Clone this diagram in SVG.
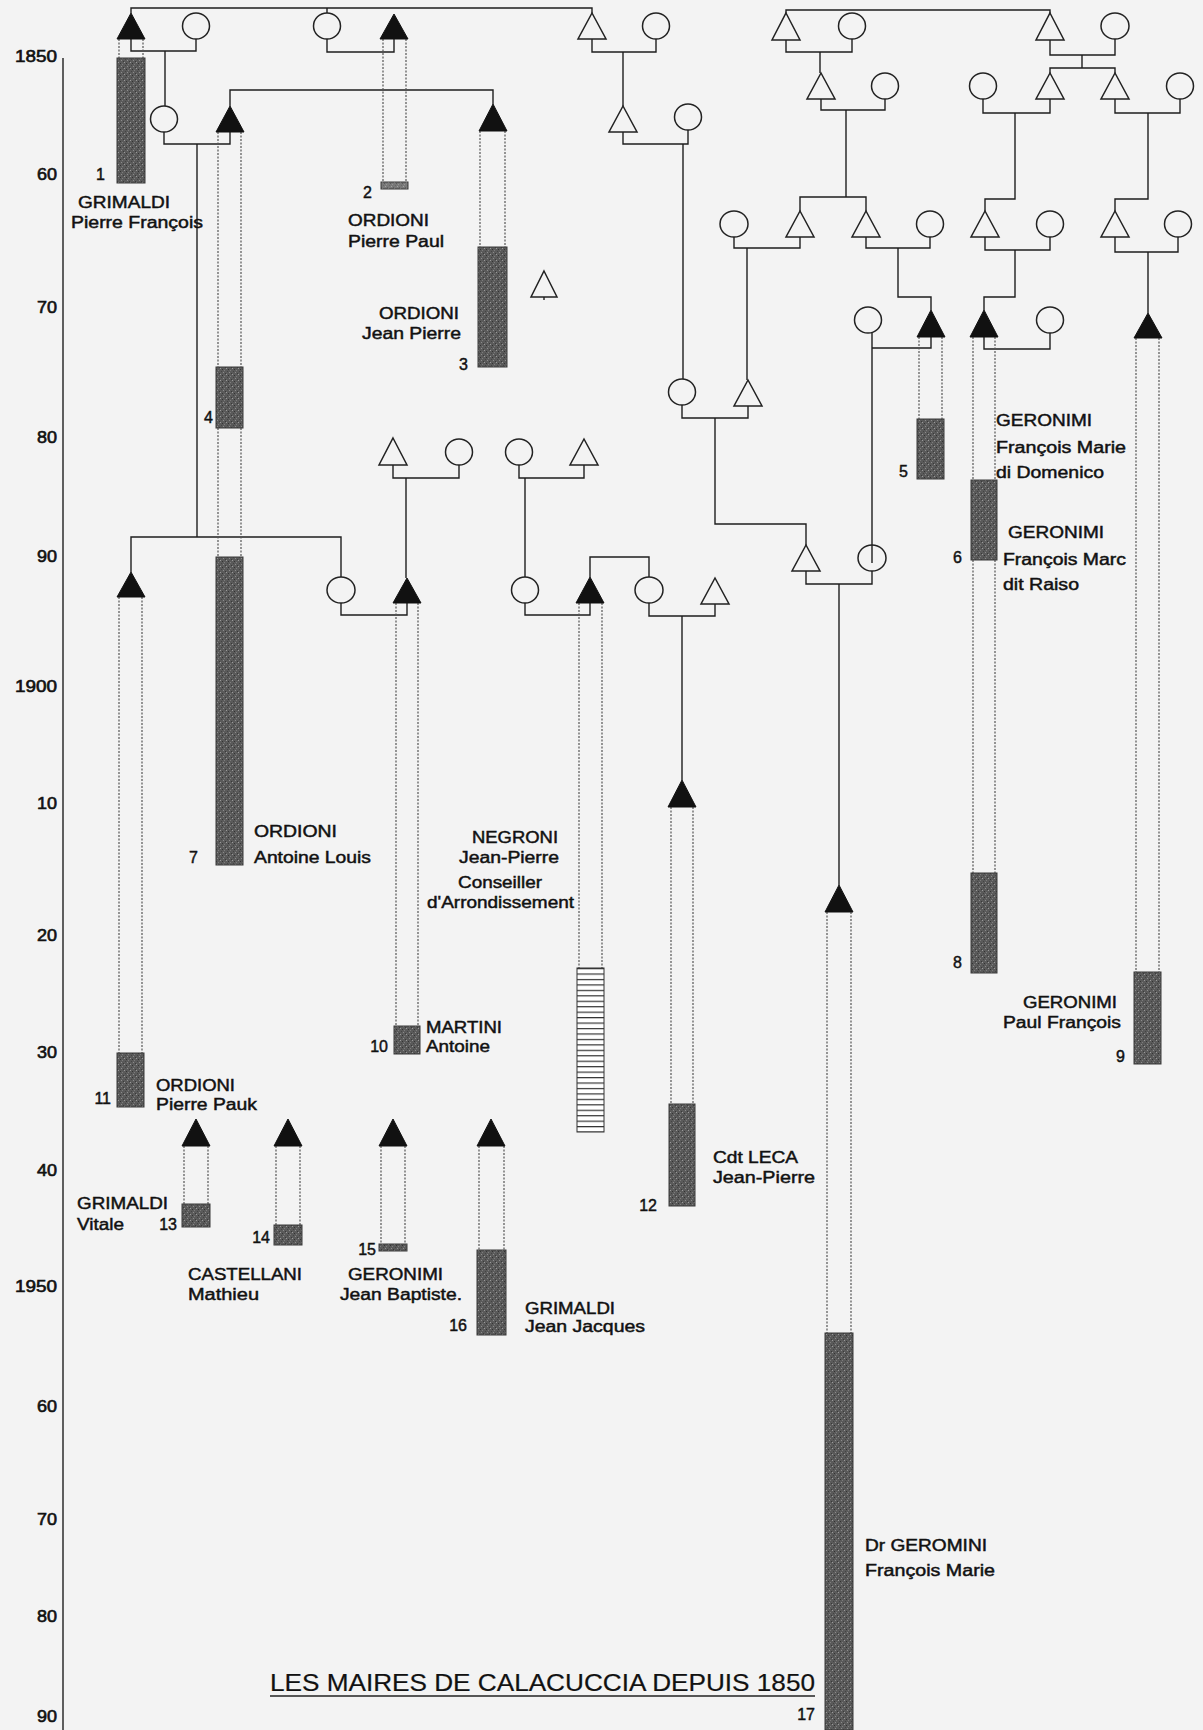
<svg xmlns="http://www.w3.org/2000/svg" width="1203" height="1730" viewBox="0 0 1203 1730">
<defs>
<pattern id="stip" width="6" height="6" patternUnits="userSpaceOnUse">
<rect width="6" height="6" fill="#5a5a5a"/>
<rect x="1" y="0" width="1" height="1" fill="#8c8c8c"/>
<rect x="4" y="2" width="1" height="1" fill="#9a9a9a"/>
<rect x="2" y="4" width="1" height="1" fill="#7d7d7d"/>
<rect x="0" y="3" width="1" height="1" fill="#333"/>
<rect x="3" y="1" width="1" height="1" fill="#3a3a3a"/>
<rect x="5" y="5" width="1" height="1" fill="#444"/>
</pattern>
<pattern id="stripes" x="0" y="968" width="6" height="5.45" patternUnits="userSpaceOnUse">
<rect width="6" height="5.45" fill="#ffffff"/>
<rect y="0" width="6" height="1.2" fill="#333"/>
</pattern>
<style>
.bg{fill:#f3f3f3}
.ln{stroke:#1e1e1e;stroke-width:1.4;fill:none}
.dt{stroke:#555;stroke-width:1.2;stroke-dasharray:2 1.5;fill:none}
.tf{fill:#111;stroke:#111;stroke-width:1}
.to{fill:none;stroke:#222;stroke-width:1.5}
.c{fill:none;stroke:#222;stroke-width:1.5}
.bar{fill:url(#stip);stroke:#3a3a3a;stroke-width:1}
text{font-family:"Liberation Sans",Arial,sans-serif;font-size:16px;fill:#111;stroke:#111;stroke-width:0.45}
.num{font-size:16px}
.yr{font-size:16px;stroke-width:0.6}
.ttl{font-size:24px;stroke-width:0.2}
</style>
</defs>
<rect class="bg" width="1203" height="1730"/>

<!-- axis -->
<g id="axis">
<line class="ln" x1="63" y1="58" x2="63" y2="1730"/>
<g text-anchor="end">
<text class="yr" x="57" y="62" textLength="42" lengthAdjust="spacingAndGlyphs">1850</text>
<text class="yr" x="57" y="180" textLength="20" lengthAdjust="spacingAndGlyphs">60</text>
<text class="yr" x="57" y="313" textLength="20" lengthAdjust="spacingAndGlyphs">70</text>
<text class="yr" x="57" y="443" textLength="20" lengthAdjust="spacingAndGlyphs">80</text>
<text class="yr" x="57" y="562" textLength="20" lengthAdjust="spacingAndGlyphs">90</text>
<text class="yr" x="57" y="692" textLength="42" lengthAdjust="spacingAndGlyphs">1900</text>
<text class="yr" x="57" y="809" textLength="20" lengthAdjust="spacingAndGlyphs">10</text>
<text class="yr" x="57" y="941" textLength="20" lengthAdjust="spacingAndGlyphs">20</text>
<text class="yr" x="57" y="1058" textLength="20" lengthAdjust="spacingAndGlyphs">30</text>
<text class="yr" x="57" y="1176" textLength="20" lengthAdjust="spacingAndGlyphs">40</text>
<text class="yr" x="57" y="1292" textLength="42" lengthAdjust="spacingAndGlyphs">1950</text>
<text class="yr" x="57" y="1412" textLength="20" lengthAdjust="spacingAndGlyphs">60</text>
<text class="yr" x="57" y="1525" textLength="20" lengthAdjust="spacingAndGlyphs">70</text>
<text class="yr" x="57" y="1622" textLength="20" lengthAdjust="spacingAndGlyphs">80</text>
<text class="yr" x="57" y="1722" textLength="20" lengthAdjust="spacingAndGlyphs">90</text>
</g>
</g>

<!-- connectors -->
<g id="connectors">
<path class="ln" d="M131,13 V8 H592 V13 M327,8 V13"/>
<path class="ln" d="M131,39 V51 H196 V39 M165,51 V106"/>
<path class="ln" d="M327,39 V52 H394 V39"/>
<path class="ln" d="M592,39 V52 H656 V39 M623,52 V106"/>
<path class="ln" d="M623,132 V144 H688 V130 M683,144 V379"/>
<path class="ln" d="M164,132 V144 H230 V132 M197,144 V537"/>
<path class="ln" d="M230,106 V90 H493 V104"/>
<path class="ln" d="M131,572 V537 H341 V577"/>
<path class="ln" d="M393,465 V478 H459 V465 M406,478 V578"/>
<path class="ln" d="M519,465 V478 H584 V465 M525,478 V577"/>
<path class="ln" d="M341,603 V615 H407 V603"/>
<path class="ln" d="M525,603 V615 H590 V603"/>
<path class="ln" d="M590,577 V557 H649 V577"/>
<path class="ln" d="M649,603 V616 H715 V604 M682,616 V780"/>
<path class="ln" d="M682,405 V418 H748 V406 M715,418 V524 H806 V545"/>
<path class="ln" d="M806,571 V584 H872 V571 M839,584 V885"/>
<path class="ln" d="M872,333 V348 H931 V337 M872,348 V563"/>
<path class="ln" d="M984,337 V349 H1050 V333"/>
<path class="ln" d="M866,237 V248 H930 V237 M898,248 V297 H931 V310"/>
<path class="ln" d="M985,237 V250 H1050 V237 M1015,250 V297 H984 V310"/>
<path class="ln" d="M1115,237 V252 H1178 V237 M1148,252 V313"/>
<path class="ln" d="M734,237 V248 H800 V237 M747,248 V380"/>
<path class="ln" d="M800,211 V197 H866 V211 M846,110 V197"/>
<path class="ln" d="M821,99 V110 H885 V99"/>
<path class="ln" d="M786,40 V52 H852 V39 M820,52 V73"/>
<path class="ln" d="M786,13 V10 H1050 V13"/>
<path class="ln" d="M1050,40 V55 H1115 V39 M1082,55 V68"/>
<path class="ln" d="M1050,73 V68 H1115 V73"/>
<path class="ln" d="M983,99 V113 H1050 V99 M1015,113 V199 H985 V211"/>
<path class="ln" d="M1115,99 V113 H1180 V99 M1148,113 V199 H1115 V211"/>
<!-- dotted life lines -->
<path class="dt" d="M119,39 V58 M143,39 V58"/>
<path class="dt" d="M383,39 V182 M406,39 V182"/>
<path class="dt" d="M480,131 V247 M505,131 V247"/>
<path class="dt" d="M218,132 V367 M241,132 V367 M218,428 V557 M241,428 V557"/>
<path class="dt" d="M919,337 V419 M942,337 V419"/>
<path class="dt" d="M973,337 V480 M995,337 V480 M973,560 V873 M995,560 V873"/>
<path class="dt" d="M1136,338 V972 M1159,338 V972"/>
<path class="dt" d="M396,603 V1026 M418,603 V1026"/>
<path class="dt" d="M119,597 V1053 M142,597 V1053"/>
<path class="dt" d="M579,603 V968 M602,603 V968"/>
<path class="dt" d="M671,807 V1104 M693,807 V1104"/>
<path class="dt" d="M827,912 V1333 M851,912 V1333"/>
<path class="dt" d="M184,1146 V1204 M208,1146 V1204"/>
<path class="dt" d="M276,1146 V1225 M300,1146 V1225"/>
<path class="dt" d="M381,1146 V1244 M405,1146 V1244"/>
<path class="dt" d="M479,1146 V1250 M504,1146 V1250"/>
</g>

<!-- ancestors / relatives (open symbols) -->
<g id="n-ca"><ellipse class="c" cx="196" cy="26" rx="13.5" ry="13"/></g>
<g id="n-cc"><ellipse class="c" cx="327" cy="26" rx="13.5" ry="13"/></g>
<g id="n-ttop"><path class="to" d="M592,13 L606,39 L578,39 Z"/></g>
<g id="n-d"><ellipse class="c" cx="656" cy="26" rx="13.5" ry="13"/></g>
<g id="n-e"><path class="to" d="M623,106 L637,132 L609,132 Z"/></g>
<g id="n-f"><ellipse class="c" cx="688" cy="117" rx="13.5" ry="13"/></g>
<g id="n-cb"><ellipse class="c" cx="164" cy="119" rx="13.5" ry="13"/></g>
<g id="n-small"><path class="to" d="M544,271 L557,297 L531,297 Z"/><line class="ln" x1="544" y1="297" x2="544" y2="300"/></g>
<g id="n-g"><ellipse class="c" cx="682" cy="392" rx="13.5" ry="13"/></g>
<g id="n-h"><path class="to" d="M748,380 L762,406 L734,406 Z"/></g>
<g id="n-i"><path class="to" d="M806,545 L820,571 L792,571 Z"/></g>
<g id="n-j"><ellipse class="c" cx="872" cy="558" rx="14" ry="13"/></g>
<g id="n-k"><ellipse class="c" cx="649" cy="590" rx="14" ry="13"/></g>
<g id="n-l"><path class="to" d="M715,578 L729,604 L701,604 Z"/></g>
<g id="n-m1"><path class="to" d="M393,438 L407,465 L379,465 Z"/></g>
<g id="n-m2"><ellipse class="c" cx="459" cy="452" rx="13.5" ry="13"/></g>
<g id="n-n1"><ellipse class="c" cx="519" cy="452" rx="13.5" ry="13"/></g>
<g id="n-n2"><path class="to" d="M584,439 L598,465 L570,465 Z"/></g>
<g id="n-n3"><ellipse class="c" cx="525" cy="590" rx="13.5" ry="13"/></g>
<g id="n-o"><ellipse class="c" cx="341" cy="590" rx="14" ry="13"/></g>
<g id="n-dd"><path class="to" d="M786,13 L800,40 L772,40 Z"/></g>
<g id="n-ee"><ellipse class="c" cx="852" cy="26" rx="13.5" ry="13"/></g>
<g id="n-ff"><path class="to" d="M1050,13 L1064,40 L1036,40 Z"/></g>
<g id="n-gg"><ellipse class="c" cx="1115" cy="26" rx="14" ry="13"/></g>
<g id="n-x"><path class="to" d="M821,73 L835,99 L807,99 Z"/></g>
<g id="n-y"><ellipse class="c" cx="885" cy="86" rx="13.5" ry="13"/></g>
<g id="n-z"><ellipse class="c" cx="983" cy="86" rx="13.5" ry="13"/></g>
<g id="n-aa"><path class="to" d="M1050,73 L1064,99 L1036,99 Z"/></g>
<g id="n-bb"><path class="to" d="M1115,73 L1129,99 L1101,99 Z"/></g>
<g id="n-cc2"><ellipse class="c" cx="1180" cy="86" rx="13.5" ry="13"/></g>
<g id="n-p"><ellipse class="c" cx="734" cy="224" rx="14" ry="13"/></g>
<g id="n-q"><path class="to" d="M800,211 L814,237 L786,237 Z"/></g>
<g id="n-r"><path class="to" d="M866,211 L880,237 L852,237 Z"/></g>
<g id="n-s"><ellipse class="c" cx="930" cy="224" rx="13.5" ry="13"/></g>
<g id="n-t"><path class="to" d="M985,211 L999,237 L971,237 Z"/></g>
<g id="n-u"><ellipse class="c" cx="1050" cy="224" rx="13.5" ry="13"/></g>
<g id="n-v"><path class="to" d="M1115,211 L1129,237 L1101,237 Z"/></g>
<g id="n-w"><ellipse class="c" cx="1178" cy="224" rx="13.5" ry="13"/></g>
<g id="n-hh"><ellipse class="c" cx="868" cy="320" rx="13.5" ry="13"/></g>
<g id="n-ii"><ellipse class="c" cx="1050" cy="320" rx="13.5" ry="13"/></g>

<!-- mayors -->
<g id="m1">
<path class="tf" d="M131,13 L145,39 L117,39 Z"/>
<rect class="bar" x="117" y="58" width="28" height="125"/>
<text class="num" x="105" y="180" text-anchor="end">1</text>
<text x="78" y="208" textLength="92" lengthAdjust="spacingAndGlyphs">GRIMALDI</text>
<text x="71" y="228" textLength="132" lengthAdjust="spacingAndGlyphs">Pierre François</text>
</g>
<g id="m2">
<path class="tf" d="M394,14 L408,39 L380,39 Z"/>
<rect class="bar" x="381" y="182" width="27" height="7" fill-opacity="0.8"/>
<text class="num" x="372" y="198" text-anchor="end">2</text>
<text x="348" y="226" textLength="81" lengthAdjust="spacingAndGlyphs">ORDIONI</text>
<text x="348" y="247" textLength="96" lengthAdjust="spacingAndGlyphs">Pierre Paul</text>
</g>
<g id="m3">
<path class="tf" d="M493,104 L507,131 L479,131 Z"/>
<rect class="bar" x="478" y="247" width="29" height="120"/>
<text class="num" x="468" y="370" text-anchor="end">3</text>
<text x="379" y="319" textLength="80" lengthAdjust="spacingAndGlyphs">ORDIONI</text>
<text x="362" y="339" textLength="99" lengthAdjust="spacingAndGlyphs">Jean Pierre</text>
</g>
<g id="m4-7">
<path class="tf" d="M230,106 L244,132 L216,132 Z"/>
<rect class="bar" x="216" y="367" width="27" height="61"/>
<text class="num" x="213" y="423" text-anchor="end">4</text>
<rect class="bar" x="216" y="557" width="27" height="308"/>
<text class="num" x="198" y="863" text-anchor="end">7</text>
<text x="254" y="837" textLength="83" lengthAdjust="spacingAndGlyphs">ORDIONI</text>
<text x="254" y="863" textLength="117" lengthAdjust="spacingAndGlyphs">Antoine Louis</text>
</g>
<g id="m5">
<path class="tf" d="M931,310 L945,337 L917,337 Z"/>
<rect class="bar" x="917" y="419" width="27" height="60"/>
<text class="num" x="908" y="477" text-anchor="end">5</text>
<text x="996" y="426" textLength="96" lengthAdjust="spacingAndGlyphs">GERONIMI</text>
<text x="996" y="453" textLength="130" lengthAdjust="spacingAndGlyphs">François Marie</text>
<text x="996" y="478" textLength="108" lengthAdjust="spacingAndGlyphs">di Domenico</text>
</g>
<g id="m6-8">
<path class="tf" d="M984,310 L998,337 L970,337 Z"/>
<rect class="bar" x="971" y="480" width="26" height="80"/>
<text class="num" x="962" y="563" text-anchor="end">6</text>
<text x="1008" y="538" textLength="96" lengthAdjust="spacingAndGlyphs">GERONIMI</text>
<text x="1003" y="565" textLength="123" lengthAdjust="spacingAndGlyphs">François Marc</text>
<text x="1003" y="590" textLength="76" lengthAdjust="spacingAndGlyphs">dit Raiso</text>
<rect class="bar" x="971" y="873" width="26" height="100"/>
<text class="num" x="962" y="968" text-anchor="end">8</text>
</g>
<g id="m9">
<path class="tf" d="M1148,313 L1162,338 L1134,338 Z"/>
<rect class="bar" x="1134" y="972" width="27" height="92"/>
<text class="num" x="1125" y="1062" text-anchor="end">9</text>
<text x="1023" y="1008" textLength="94" lengthAdjust="spacingAndGlyphs">GERONIMI</text>
<text x="1003" y="1028" textLength="118" lengthAdjust="spacingAndGlyphs">Paul François</text>
</g>
<g id="m10">
<path class="tf" d="M407,578 L421,603 L393,603 Z"/>
<rect class="bar" x="394" y="1026" width="26" height="28"/>
<text class="num" x="388" y="1052" text-anchor="end">10</text>
<text x="426" y="1033" textLength="76" lengthAdjust="spacingAndGlyphs">MARTINI</text>
<text x="426" y="1052" textLength="64" lengthAdjust="spacingAndGlyphs">Antoine</text>
</g>
<g id="m11">
<path class="tf" d="M131,572 L145,597 L117,597 Z"/>
<rect class="bar" x="117" y="1053" width="27" height="54"/>
<text class="num" x="111" y="1104" text-anchor="end">11</text>
<text x="156" y="1091" textLength="79" lengthAdjust="spacingAndGlyphs">ORDIONI</text>
<text x="156" y="1110" textLength="101" lengthAdjust="spacingAndGlyphs">Pierre Pauk</text>
</g>
<g id="mN">
<path class="tf" d="M590,577 L604,603 L576,603 Z"/>
<rect x="577" y="968" width="27" height="164" fill="url(#stripes)" stroke="#333" stroke-width="1"/>
<text x="472" y="843" textLength="86" lengthAdjust="spacingAndGlyphs">NEGRONI</text>
<text x="459" y="863" textLength="100" lengthAdjust="spacingAndGlyphs">Jean-Pierre</text>
<text x="458" y="888" textLength="84" lengthAdjust="spacingAndGlyphs">Conseiller</text>
<text x="427" y="908" textLength="147" lengthAdjust="spacingAndGlyphs">d'Arrondissement</text>
</g>
<g id="m12">
<path class="tf" d="M682,780 L696,807 L668,807 Z"/>
<rect class="bar" x="669" y="1104" width="26" height="102"/>
<text class="num" x="657" y="1211" text-anchor="end">12</text>
<text x="713" y="1163" textLength="85" lengthAdjust="spacingAndGlyphs">Cdt LECA</text>
<text x="713" y="1183" textLength="102" lengthAdjust="spacingAndGlyphs">Jean-Pierre</text>
</g>
<g id="m13">
<path class="tf" d="M196,1119 L210,1146 L182,1146 Z"/>
<rect class="bar" x="182" y="1204" width="28" height="23"/>
<text class="num" x="177" y="1230" text-anchor="end">13</text>
<text x="77" y="1209" textLength="91" lengthAdjust="spacingAndGlyphs">GRIMALDI</text>
<text x="77" y="1230" textLength="47" lengthAdjust="spacingAndGlyphs">Vitale</text>
</g>
<g id="m14">
<path class="tf" d="M288,1119 L302,1146 L274,1146 Z"/>
<rect class="bar" x="274" y="1225" width="28" height="20"/>
<text class="num" x="270" y="1243" text-anchor="end">14</text>
<text x="188" y="1280" textLength="114" lengthAdjust="spacingAndGlyphs">CASTELLANI</text>
<text x="188" y="1300" textLength="71" lengthAdjust="spacingAndGlyphs">Mathieu</text>
</g>
<g id="m15">
<path class="tf" d="M393,1119 L407,1146 L379,1146 Z"/>
<rect class="bar" x="379" y="1244" width="28" height="7"/>
<text class="num" x="376" y="1255" text-anchor="end">15</text>
<text x="348" y="1280" textLength="95" lengthAdjust="spacingAndGlyphs">GERONIMI</text>
<text x="340" y="1300" textLength="122" lengthAdjust="spacingAndGlyphs">Jean Baptiste.</text>
</g>
<g id="m16">
<path class="tf" d="M491,1119 L505,1146 L477,1146 Z"/>
<rect class="bar" x="477" y="1250" width="29" height="85"/>
<text class="num" x="467" y="1331" text-anchor="end">16</text>
<text x="525" y="1314" textLength="90" lengthAdjust="spacingAndGlyphs">GRIMALDI</text>
<text x="525" y="1332" textLength="120" lengthAdjust="spacingAndGlyphs">Jean Jacques</text>
</g>
<g id="m17">
<path class="tf" d="M839,885 L853,912 L825,912 Z"/>
<rect class="bar" x="825" y="1333" width="28" height="397"/>
<text class="num" x="815" y="1720" text-anchor="end">17</text>
<text x="865" y="1551" textLength="122" lengthAdjust="spacingAndGlyphs">Dr GEROMINI</text>
<text x="865" y="1576" textLength="130" lengthAdjust="spacingAndGlyphs">François Marie</text>
</g>

<g id="title">
<text class="ttl" x="270" y="1691" textLength="545" lengthAdjust="spacingAndGlyphs">LES MAIRES DE CALACUCCIA DEPUIS 1850</text>
<line x1="270" y1="1696" x2="815" y2="1696" stroke="#222" stroke-width="1.6"/>
</g>
</svg>
